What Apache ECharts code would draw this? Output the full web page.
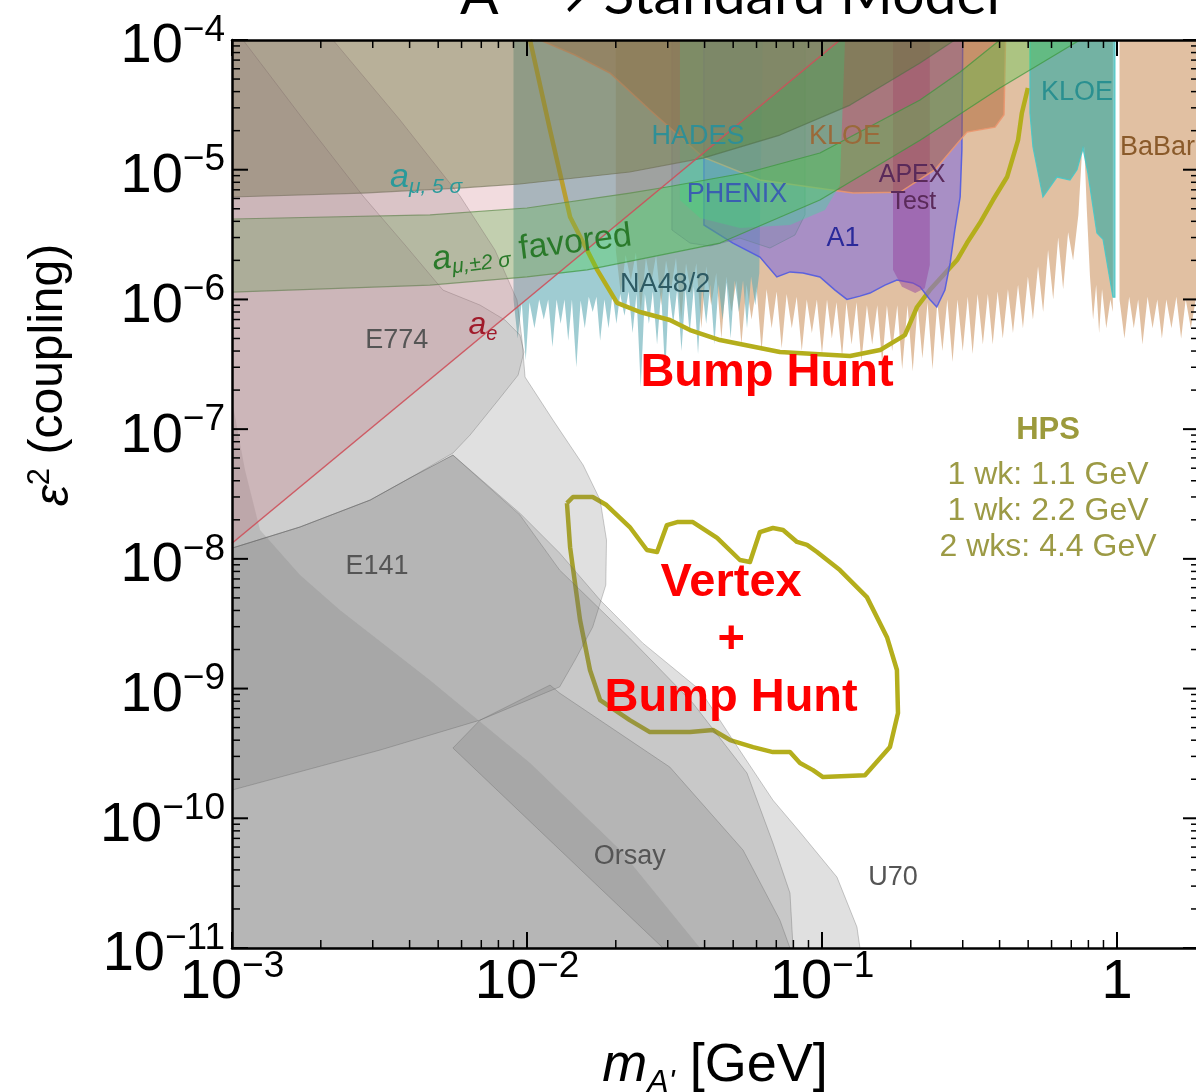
<!DOCTYPE html>
<html><head><meta charset="utf-8">
<script src="https://cdn.jsdelivr.net/npm/echarts@6/dist/echarts.min.js"></script>
<style>html,body{margin:0;padding:0;background:#fff}#c{width:1196px;height:1092px}</style>
</head><body><div id="c"></div>
<script>
// ---------- axes ----------
const massMin = 1e-3, massMax = 1.897, epsMin = 1e-11, epsMax = 1e-4;
const xTickValues = [1e-3, 1e-2, 1e-1, 1];
const xTickLabels = [['10','−3'],['10','−2'],['10','−1'],['1','']];
const yTickValues = [1e-11,1e-10,1e-9,1e-8,1e-7,1e-6,1e-5,1e-4];
const yTickLabels = [['10','−11'],['10','−10'],['10','−9'],['10','−8'],['10','−7'],['10','−6'],['10','−5'],['10','−4']];

// ---------- regions [mass GeV, eps^2] ----------
const aeLine = [[1e-3,1.32e-8],[0.115,1e-4]];
const sigma5Line = [[1e-3,6.16e-6],[2.78e-3,6.61e-6],[6.07e-3,7.25e-6],[9.46e-3,7.76e-6],[2.23e-2,9.6e-6],[3.95e-2,1.23e-5],[7.2e-2,1.85e-5],[1.245e-1,3.15e-5],[2.15e-1,6.65e-5],[2.82e-1,1e-4]];
const favoredUpper = [[1e-3,4.17e-6],[4.69e-3,4.48e-6],[1e-2,5.07e-6],[2.23e-2,6.61e-6],[2.98e-2,7.36e-6],[5.70e-2,9.6e-6],[9.84e-2,1.345e-5],[2.15e-1,3.45e-5],[2.94e-1,5.67e-5],[4.01e-1,1e-4]];
const favoredLower = [[1e-3,1.14e-6],[4.69e-3,1.29e-6],[1e-2,1.49e-6],[1.6e-2,1.69e-6],[4.51e-2,2.72e-6],[9.84e-2,5.84e-6],[2.15e-1,1.69e-5],[4.01e-1,4.27e-5],[7.49e-1,1e-4]];
const e774 = [[1e-3,1e-4],[1.09e-3,1e-4],[1.70e-3,2.64e-5],[2.78e-3,6.27e-6],[3.86e-3,2.63e-6],[5.19e-3,1.18e-6],[6.93e-3,9.05e-7],[8.42e-3,6.94e-7],[9.46e-3,5.31e-7],[9.77e-3,3.93e-7],[9.33e-3,2.61e-7],[8.1e-3,1.74e-7],[6.41e-3,9.0e-8],[5.61e-3,6.54e-8],[4.01e-3,4.2e-8],[2.94e-3,2.84e-8],[1.70e-3,1.76e-8],[1e-3,1.21e-8]];
const e141 = [[1e-3,1e-4],[2.2e-3,1e-4],[3.71e-3,2.42e-5],[5.93e-3,6.27e-6],[7.79e-3,2.4e-6],[9.25e-3,9.9e-7],[9.62e-3,4.86e-7],[9.85e-3,2.52e-7],[1.225e-2,1.175e-7],[1.55e-2,5.29e-8],[1.77e-2,2.84e-8],[1.86e-2,1.40e-8],[1.85e-2,6.28e-9],[1.67e-2,2.98e-9],[1.455e-2,1.66e-9],[1.29e-2,1.03e-9],[6.93e-3,5.71e-10],[3.18e-3,3.36e-10],[1e-3,1.65e-10]];
const u70 = [[1e-3,1.21e-8],[1.70e-3,1.76e-8],[2.94e-3,2.84e-8],[4.01e-3,4.2e-8],[5.61e-3,6.31e-8],[9.46e-3,2.25e-8],[1.29e-2,1.11e-8],[1.77e-2,4.81e-9],[2.47e-2,2.24e-9],[3.86e-2,9.74e-10],[4.99e-2,4.01e-10],[6.82e-2,1.38e-10],[8.42e-2,7.83e-11],[1.124e-1,3.52e-11],[1.314e-1,1.45e-11],[1.345e-1,1e-11],[1e-3,1e-11]];
const innerDump = [[1e-3,1.21e-8],[1.70e-3,1.76e-8],[2.94e-3,2.84e-8],[4.01e-3,4.2e-8],[5.61e-3,6.31e-8],[9.46e-3,2.18e-8],[1.29e-2,8.2e-9],[2.23e-2,2.45e-9],[3.65e-2,7.73e-10],[5.57e-2,2.23e-10],[6.82e-2,6.44e-11],[7.79e-2,2.65e-11],[7.98e-2,1e-11],[1e-3,1e-11]];
const lowDump = [[1e-3,1.68e-7],[1.107e-3,4.84e-8],[1.245e-3,1.67e-8],[1.70e-3,7.5e-9],[2.32e-3,4.03e-9],[4.69e-3,1.16e-9],[1.024e-2,2.67e-10],[2.07e-2,5.69e-11],[3.86e-2,1e-11],[1e-3,1e-11]];
const orsay = [[5.61e-3,3.48e-10],[6.93e-3,5.71e-10],[1.197e-2,1.064e-9],[1.29e-2,9.23e-10],[3.05e-2,2.48e-10],[5.40e-2,5.69e-11],[7.2e-2,1.64e-11],[7.79e-2,1e-11],[2.89e-2,1e-11]];
const na48 = [[9.0e-3,1e-4],[9.0e-3,1.0e-6],[9.3e-3,5e-7],[9.6e-3,9.5e-7],[9.9e-3,3.4e-7],[1.02e-2,9.5e-7],[1.06e-2,6e-7],[1.10e-2,1.0e-6],[1.14e-2,7e-7],[1.18e-2,1.0e-6],[1.22e-2,4.3e-7],[1.26e-2,1.0e-6],[1.30e-2,6.5e-7],[1.34e-2,1.0e-6],[1.38e-2,4.8e-7],[1.42e-2,1.0e-6],[1.47e-2,3e-7],[1.52e-2,9.8e-7],[1.57e-2,6e-7],[1.62e-2,1.05e-6],[1.67e-2,8e-7],[1.72e-2,1.05e-6],[1.77e-2,4.8e-7],[1.83e-2,1.0e-6],[1.89e-2,6e-7],[1.95e-2,1.1e-6],[2.01e-2,6.5e-7],[2.07e-2,1.1e-6],[2.14e-2,7.5e-7],[2.21e-2,1.15e-6],[2.28e-2,5.5e-7],[2.35e-2,1.1e-6],[2.43e-2,2.1e-7],[2.51e-2,1.1e-6],[2.59e-2,6.5e-7],[2.67e-2,1.15e-6],[2.76e-2,4.5e-7],[2.85e-2,1.15e-6],[2.94e-2,2.6e-7],[3.03e-2,1.2e-6],[3.13e-2,6.5e-7],[3.23e-2,1.2e-6],[3.34e-2,4e-7],[3.45e-2,1.2e-6],[3.56e-2,5.5e-7],[3.68e-2,1.25e-6],[3.80e-2,3.8e-7],[3.92e-2,1.25e-6],[4.05e-2,6.5e-7],[4.18e-2,1.3e-6],[4.32e-2,4.5e-7],[4.46e-2,1.3e-6],[4.60e-2,7e-7],[4.75e-2,1.35e-6],[4.90e-2,5e-7],[5.06e-2,1.4e-6],[5.23e-2,8e-7],[5.40e-2,1.4e-6],[5.57e-2,6e-7],[5.75e-2,1.5e-6],[5.94e-2,9e-7],[6.13e-2,1.6e-6],[6.3e-2,1e-4]];
const babarLow = [[0.0200,1e-4],[0.0200,2.4e-6],[0.0208,1.1e-6],[0.0216,2.2e-6],[0.0225,1.4e-6],[0.0234,2.3e-6],[0.0243,8e-7],[0.0253,2.1e-6],[0.0263,1.3e-6],[0.0274,2.2e-6],[0.0285,9e-7],[0.0296,2.0e-6],[0.0308,1.2e-6],[0.0320,2.1e-6],[0.0333,7e-7],[0.0346,1.9e-6],[0.0360,1.1e-6],[0.0375,1.9e-6],[0.0390,6e-7],[0.0405,1.8e-6],[0.0421,9e-7],[0.0438,1.6e-6],[0.0456,5e-7],[0.0474,1.5e-6],[0.0493,8e-7],[0.0513,1.4e-6],[0.0533,4.5e-7],[0.0555,1.3e-6],[0.0577,7e-7],[0.0600,1.25e-6],[0.0624,4e-7],[0.0649,1.2e-6],[0.0675,6e-7],[0.0702,1.15e-6],[0.0730,4.2e-7],[0.0759,1.1e-6],[0.0790,6e-7],[0.0821,1.05e-6],[0.0854,4e-7],[0.0888,1.0e-6],[0.0924,5.5e-7],[0.0961,1.0e-6],[0.100,3.8e-7],[0.104,1.0e-6],[0.108,5e-7],[0.112,9.5e-7],[0.117,3.6e-7],[0.121,9.5e-7],[0.126,4.5e-7],[0.131,9.5e-7],[0.136,3.3e-7],[0.142,9e-7],[0.148,4.5e-7],[0.154,9e-7],[0.160,3.2e-7],[0.166,9e-7],[0.173,4e-7],[0.180,9e-7],[0.187,2.9e-7],[0.195,9e-7],[0.203,2.8e-7],[0.211,9e-7],[0.219,3.5e-7],[0.228,9.5e-7],[0.237,2.9e-7],[0.246,9.5e-7],[0.256,4e-7],[0.266,1.0e-6],[0.277,3.3e-7],[0.288,1.0e-6],[0.300,4e-7],[0.312,1.05e-6],[0.324,3.8e-7],[0.337,1.1e-6],[0.351,4.5e-7],[0.365,1.1e-6],[0.379,4.5e-7],[0.394,1.15e-6],[0.410,5e-7],[0.427,1.2e-6],[0.444,5.5e-7],[0.462,1.3e-6],[0.480,6e-7],[0.499,1.5e-6],[0.519,7e-7],[0.540,1.8e-6],[0.562,8e-7],[0.584,2.4e-6],[0.608,1.0e-6],[0.632,3.0e-6],[0.657,1.2e-6],[0.683,3.3e-6],[0.710,2.0e-6],[0.740,4.5e-6],[0.760,1.3e-5],[0.775,1.5e-5],[0.790,5e-6],[0.810,1.5e-6],[0.830,7e-7],[0.850,1.3e-6],[0.870,5.5e-7],[0.890,1.2e-6],[0.920,6e-7],[0.950,1.0e-6],[0.968,8e-7],[0.968,1e-4]];
const babarHigh = [[1.02,1e-4],[1.02,1.0e-6],[1.06,5e-7],[1.10,1.05e-6],[1.14,6e-7],[1.18,1.0e-6],[1.22,4.5e-7],[1.27,1.05e-6],[1.32,6e-7],[1.37,1.0e-6],[1.42,5e-7],[1.47,1.0e-6],[1.53,6e-7],[1.59,1.05e-6],[1.65,5e-7],[1.71,1.0e-6],[1.78,6e-7],[1.85,1.0e-6],[1.92,5.5e-7],[2.0,1.0e-6],[2.0,1e-4]];
const kloeTop = [[1.107e-2,1e-4],[1.455e-2,7.66e-5],[1.91e-2,5.57e-5],[2.61e-2,2.89e-5],[3.95e-2,1.25e-5],[6.16e-2,8.33e-6],[1.274e-1,6.61e-6],[1.837e-1,6.7e-6],[2.415e-1,1.0e-5],[3.1e-1,1.95e-5],[3.86e-1,2.13e-5],[4.14e-1,2.65e-5],[4.19e-1,1e-4]];
const hades = [[3.1e-2,1e-4],[3.1e-2,3.43e-6],[3.57e-2,2.72e-6],[4.17e-2,2.58e-6],[5.27e-2,2.97e-6],[6.66e-2,2.49e-6],[8.1e-2,3.14e-6],[8.76e-2,4.5e-6],[8.76e-2,1e-4]];
const phenix = [[3.3e-2,1e-4],[3.3e-2,5.84e-6],[3.86e-2,4.24e-6],[5.27e-2,3.55e-6],[7.79e-2,3.75e-6],[1.024e-1,4.89e-6],[1.15e-1,7.62e-6],[1.197e-1,1e-4]];
const a1 = [[3.98e-2,1e-4],[3.98e-2,3.75e-6],[4.99e-2,2.72e-6],[6.16e-2,2.12e-6],[7.03e-2,1.49e-6],[7.79e-2,1.63e-6],[8.62e-2,1.6e-6],[9.84e-2,1.49e-6],[1.107e-1,1.18e-6],[1.215e-1,1.0e-6],[1.345e-1,1.06e-6],[1.455e-1,1.12e-6],[1.635e-1,1.29e-6],[1.795e-1,1.41e-6],[2.03e-1,1.34e-6],[2.15e-1,1.25e-6],[2.32e-1,1.0e-6],[2.45e-1,8.75e-7],[2.61e-1,1.18e-6],[2.72e-1,1.91e-6],[2.82e-1,3.43e-6],[2.94e-1,6.16e-6],[2.98e-1,1.42e-5],[3.0e-1,1e-4]];
const apexTest = [[1.741e-1,1e-4],[1.741e-1,1.69e-6],[1.867e-1,1.25e-6],[2.07e-1,1.12e-6],[2.23e-1,1.22e-6],[2.32e-1,1.84e-6],[2.32e-1,1e-4]];
const kloeHigh = [[5.07e-1,1e-4],[5.07e-1,2.74e-5],[5.19e-1,1.5e-5],[5.61e-1,6.16e-6],[6.26e-1,8.78e-6],[6.93e-1,8.33e-6],[7.32e-1,1e-5],[7.67e-1,1.47e-5],[7.97e-1,9.4e-6],[8.55e-1,3.25e-6],[8.97e-1,2.9e-6],[9.69e-1,1.04e-6],[9.84e-1,1.04e-6],[9.84e-1,1e-4]];
// HPS reach contours
const bumpHunt = [[1.024e-2,1e-4],[1.197e-2,2.02e-5],[1.40e-2,4.32e-6],[1.73e-2,1.69e-6],[2.02e-2,9.4e-7],[2.415e-2,8.0e-7],[3.05e-2,6.94e-7],[3.57e-2,5.81e-7],[4.51e-2,4.86e-7],[7.2e-2,3.93e-7],[1.245e-1,3.66e-7],[1.573e-1,4.07e-7],[1.91e-1,5.31e-7],[2.1e-1,8.74e-7],[2.32e-1,1.18e-6],[2.87e-1,2.01e-6],[3.1e-1,2.72e-6],[3.43e-1,3.88e-6],[3.8e-1,5.84e-6],[4.24e-1,8.78e-6],[4.62e-1,1.69e-5],[4.76e-1,2.74e-5],[4.99e-1,4.27e-5]];
const vertexBump = [[1.366e-2,2.69e-8],[1.432e-2,3.0e-8],[1.67e-2,3.0e-8],[1.86e-2,2.6e-8],[2.23e-2,1.76e-8],[2.55e-2,1.17e-8],[2.76e-2,1.13e-8],[2.98e-2,1.82e-8],[3.23e-2,1.92e-8],[3.65e-2,1.92e-8],[4.41e-2,1.45e-8],[5.27e-2,9.8e-9],[5.70e-2,9.45e-9],[6.16e-2,1.61e-8],[6.82e-2,1.73e-8],[7.38e-2,1.67e-8],[8.23e-2,1.35e-8],[8.9e-2,1.28e-8],[9.62e-2,1.13e-8],[1.15e-1,8.2e-9],[1.42e-1,5.07e-9],[1.661e-1,2.49e-9],[1.795e-1,1.39e-9],[1.81e-1,6.47e-10],[1.70e-1,3.54e-10],[1.399e-1,2.15e-10],[1.008e-1,2.08e-10],[9.32e-2,2.35e-10],[8.42e-2,2.67e-10],[7.79e-2,3.24e-10],[6.82e-2,3.24e-10],[5.84e-2,3.54e-10],[4.88e-2,4.01e-10],[4.27e-2,4.79e-10],[3.57e-2,4.62e-10],[2.61e-2,4.62e-10],[2.23e-2,5.71e-10],[1.77e-2,8.15e-10],[1.635e-2,1.39e-9],[1.513e-2,3.38e-9],[1.40e-2,1.23e-8],[1.366e-2,2.69e-8]];

// ---------- annotations ----------
const FONT = '"Liberation Sans", Arial, Helvetica, sans-serif';
const notes = [
  {v:[6.51e-2,2.71e-7], t:'Bump Hunt', c:'#ff0000', s:47, w:'bold'},
  {v:[4.92e-2,6.51e-9], t:'Vertex', c:'#ff0000', s:47, w:'bold'},
  {v:[4.92e-2,2.37e-9], t:'+', c:'#ff0000', s:47, w:'bold'},
  {v:[4.92e-2,8.45e-10], t:'Bump Hunt', c:'#ff0000', s:47, w:'bold'},
  {v:[5.84e-1,9.84e-8], t:'HPS', c:'#9c9a3c', s:31, w:'bold'},
  {v:[5.84e-1,4.43e-8], t:'1 wk: 1.1 GeV', c:'#9c9a45', s:32},
  {v:[5.84e-1,2.34e-8], t:'1 wk: 2.2 GeV', c:'#9c9a45', s:32},
  {v:[5.84e-1,1.23e-8], t:'2 wks: 4.4 GeV', c:'#9c9a45', s:32},
  {v:[3.62e-3,4.86e-7], t:'E774', c:'#555555', s:27},
  {v:[3.1e-3,8.65e-9], t:'E141', c:'#555555', s:27},
  {v:[2.23e-2,5.11e-11], t:'Orsay', c:'#555555', s:27},
  {v:[1.741e-1,3.52e-11], t:'U70', c:'#555555', s:27},
  {v:[2.94e-2,1.31e-6], t:'NA48/2', c:'#2d5a63', s:27},
  {v:[3.8e-2,1.79e-5], t:'HADES', c:'#2f8f96', s:27},
  {v:[1.197e-1,1.79e-5], t:'KLOE', c:'#9a6a3a', s:27},
  {v:[5.15e-2,6.38e-6], t:'PHENIX', c:'#3a5fb0', s:27},
  {v:[2.02e-1,9.1e-6], t:'APEX', c:'#5a2a5a', s:25},
  {v:[2.04e-1,5.64e-6], t:'Test', c:'#5a2a5a', s:25},
  {v:[1.178e-1,2.97e-6], t:'A1', c:'#2a2a9a', s:27},
  {v:[7.32e-1,3.9e-5], t:'KLOE', c:'#2a9090', s:27},
  {v:[1.023,1.47e-5], t:'BaBar', c:'#8a5a2a', s:27, align:'left'},
  {v:[4.55e-3,8.63e-6], t:'{a|a}{s|μ, 5 σ}', c:'#2a9a9a', s:34},
  {v:[1.04e-2,2.49e-6], t:'{a|a}{s|μ,±2 σ}{f| favored}', c:'#2a7a2a', s:34, rot:7},
  {v:[7.09e-3,6.35e-7], t:'{a|a}{s|e}', c:'#a01a2a', s:32}
];

// ---------- helpers ----------
function poly(name, pts, fill, z, stroke, lw) {
  return {
    type:'custom', name, coordinateSystem:'cartesian2d', z, silent:true, clip:true, animation:false,
    data: pts,
    renderItem: (params, api) => {
      if (params.dataIndex !== 0) return null;
      return {type:'polygon', shape:{points: pts.map(p => api.coord(p))},
              style:{fill, stroke: stroke || null, lineWidth: lw || 0}};
    }
  };
}
function line(name, pts, color, width, z) {
  return {type:'line', name, data: pts, symbol:'none', showSymbol:false, z, silent:true, animation:false,
          lineStyle:{color, width, join:'round'}, clip:true};
}

// ticks
const tickItems = [];
function addX(v, len){ tickItems.push([v, epsMin, 0, len]); tickItems.push([v, epsMax, 1, len]); }
function addY(v, len){ tickItems.push([massMin, v, 2, len]); tickItems.push([massMax, v, 3, len]); }
xTickValues.forEach(v => addX(v, 16));
yTickValues.forEach(v => addY(v, 16));
for (let d = -3; d <= 0; d++) for (let m = 2; m <= 9; m++) { const v = m * Math.pow(10, d); if (v < massMax) addX(v, 8); }
for (let d = -11; d <= -5; d++) for (let m = 2; m <= 9; m++) addY(m * Math.pow(10, d), 8);

const tickSeries = {
  type:'custom', coordinateSystem:'cartesian2d', z:60, silent:true, clip:false, animation:false,
  data: tickItems,
  renderItem: (params, api) => {
    const p = api.coord([api.value(0), api.value(1)]);
    const dir = api.value(2), len = api.value(3);
    let x2 = p[0], y2 = p[1];
    if (dir === 0) y2 -= len; else if (dir === 1) y2 += len; else if (dir === 2) x2 += len; else x2 -= len;
    return {type:'line', shape:{x1:p[0], y1:p[1], x2, y2}, style:{stroke:'#000', lineWidth: len > 10 ? 2 : 1.5}};
  }
};

function tickFmt(values, labels) {
  return v => {
    const e = Math.log10(v), k = Math.round(e);
    if (Math.abs(e - k) > 1e-6) return '';
    const i = values.findIndex(t => Math.round(Math.log10(t)) === k);
    if (i < 0) return '';
    const [b, s] = labels[i];
    return s ? `{b|${b}}{s|${s}}` : `{b|${b}}`;
  };
}
const tickRich = {
  b:{fontSize:56, fontFamily:FONT, color:'#000', padding:[14,0,0,0], lineHeight:56},
  s:{fontSize:37, fontFamily:FONT, color:'#000', verticalAlign:'top', lineHeight:37}
};

const labelSeries = {
  type:'scatter', z:70, silent:true, animation:false, symbolSize:1, itemStyle:{color:'rgba(0,0,0,0)'},
  labelLayout:{hideOverlap:false},
  data: notes.map(n => ({
    value:n.v,
    label:{show:true, position:'inside', formatter:n.t, color:n.c, fontSize:n.s, fontFamily:FONT,
      fontWeight:n.w || 'normal', align:n.align || 'center', rotate:n.rot || 0, opacity:1,
      rich:{ a:{fontSize:n.s, fontStyle:'italic', color:n.c, fontFamily:FONT, lineHeight:n.s+6},
             f:{fontSize:n.s, color:n.c, fontFamily:FONT, lineHeight:n.s+6},
             s:{fontSize:Math.round(n.s*0.62), fontStyle:'italic', color:n.c, fontFamily:FONT,
                verticalAlign:'top', padding:[Math.round(n.s*0.55),0,0,0], lineHeight:Math.round(n.s*0.62)} }
    }
  }))
};

const favoredPoly = favoredUpper.concat(favoredLower.slice().reverse());
const sigma5Poly = sigma5Line.concat([[massMin, epsMax]]);
const aePoly = aeLine.concat([[massMin, epsMax]]);
const GRAY = 'rgba(112,112,112,0.22)', GRAYEDGE = 'rgba(90,90,90,0.3)';

const chart = echarts.init(document.getElementById('c'));
chart.setOption({
  animation:false,
  backgroundColor:'#ffffff',
  grid:{left:232, top:40, width:967, height:908, containLabel:false, outerBoundsMode:'none'},
  xAxis:[
    {type:'log', min:massMin, max:massMax, logBase:10, position:'bottom', z:50,
     axisLine:{show:true, lineStyle:{color:'#000', width:2.5}}, axisTick:{show:false}, splitLine:{show:false},
     axisLabel:{show:true, margin:0, formatter:tickFmt(xTickValues, xTickLabels), rich:tickRich, showMinLabel:true, showMaxLabel:true}},
    {type:'log', min:massMin, max:massMax, logBase:10, position:'top', z:50,
     axisLine:{show:true, lineStyle:{color:'#000', width:2.5}}, axisTick:{show:false}, splitLine:{show:false}, axisLabel:{show:false}}
  ],
  yAxis:[
    {type:'log', min:epsMin, max:epsMax, logBase:10, position:'left', z:50,
     axisLine:{show:true, lineStyle:{color:'#000', width:2.5}}, axisTick:{show:false}, splitLine:{show:false},
     axisLabel:{show:true, margin:7, formatter:tickFmt(yTickValues, yTickLabels), rich:tickRich}},
    {type:'log', min:epsMin, max:epsMax, logBase:10, position:'right', z:50,
     axisLine:{show:true, lineStyle:{color:'#000', width:2.5}}, axisTick:{show:false}, splitLine:{show:false}, axisLabel:{show:false}}
  ],
  graphic:[
    {type:'text', x:730, y:-4, z:100, style:{text:'A′ → Standard Model', font:'57px Lato', fill:'#000',
      align:'center', verticalAlign:'middle', textAlign:'center', textVerticalAlign:'middle'}},
    {type:'text', x:49, y:375, rotation:Math.PI/2, z:100, style:{text:'{e|ε}{p|2} (coupling)', fontSize:48, fontFamily:FONT, fill:'#000',
      align:'center', verticalAlign:'middle', textAlign:'center', textVerticalAlign:'middle',
      rich:{e:{fontSize:48, fontStyle:'italic', fontFamily:FONT, padding:[12,0,0,0], lineHeight:48},
            p:{fontSize:31, fontFamily:FONT, verticalAlign:'top', lineHeight:31}}}},
    {type:'text', x:715, y:1066, z:100, style:{text:'{m|m}{s|A\'} [GeV]', fontSize:54, fontFamily:FONT, fill:'#000',
      align:'center', verticalAlign:'middle', textAlign:'center', textVerticalAlign:'middle',
      rich:{m:{fontSize:54, fontStyle:'italic', fontFamily:FONT, lineHeight:54},
            s:{fontSize:32, fontStyle:'italic', fontFamily:FONT, verticalAlign:'top', padding:[28,0,0,0], lineHeight:32}}}}
  ],
  series:[
    poly('BaBar', babarLow, 'rgba(205,150,100,0.6)', 3),
    poly('BaBar2', babarHigh, 'rgba(205,150,100,0.6)', 3),
    poly('NA48/2', na48, 'rgba(95,170,180,0.6)', 4),
    line('Bump Hunt', bumpHunt, '#b4ae1c', 4.5, 5),
    line('Vertex', vertexBump, '#b4ae1c', 4.5, 5),
    poly('A1', a1, 'rgba(130,110,220,0.6)', 6, 'rgba(80,90,225,0.9)', 1.5),
    poly('APEX', apexTest, 'rgba(150,70,160,0.5)', 7),
    poly('HADES', hades, 'rgba(100,130,160,0.25)', 8, 'rgba(110,130,150,0.6)', 1),
    poly('KLOE', kloeTop, 'rgba(170,95,45,0.48)', 9, 'rgba(235,150,110,0.9)', 1.5),
    poly('KLOE2', kloeHigh, 'rgba(55,170,165,0.65)', 10, 'rgba(70,200,200,0.9)', 1.2),
    poly('PHENIX', phenix, 'rgba(70,215,160,0.42)', 11),
    poly('a_mu 5 sigma', sigma5Poly, 'rgba(90,130,55,0.46)', 12),
    line('a_mu 5 sigma edge', sigma5Line, 'rgba(80,110,70,0.6)', 1.2, 12),
    poly('a_mu favored', favoredPoly, 'rgba(70,205,70,0.34)', 13),
    line('fav up', favoredUpper, 'rgba(60,150,60,0.7)', 1.2, 13),
    line('fav lo', favoredLower, 'rgba(60,150,60,0.7)', 1.2, 13),
    poly('lowDump', lowDump, 'rgba(112,112,112,0.2)', 14),
    poly('U70', u70, GRAY, 15, GRAYEDGE, 1),
    poly('inner', innerDump, GRAY, 16, GRAYEDGE, 1),
    poly('Orsay', orsay, GRAY, 17, GRAYEDGE, 1),
    poly('E141', e141, GRAY, 18, GRAYEDGE, 1),
    poly('E774', e774, 'rgba(112,112,112,0.16)', 19, GRAYEDGE, 1),
    poly('a_e', aePoly, 'rgba(200,110,120,0.24)', 20),
    line('a_e edge', aeLine, 'rgba(205,80,90,0.9)', 1.5, 20),
    tickSeries,
    labelSeries
  ]
});
</script></body></html>
